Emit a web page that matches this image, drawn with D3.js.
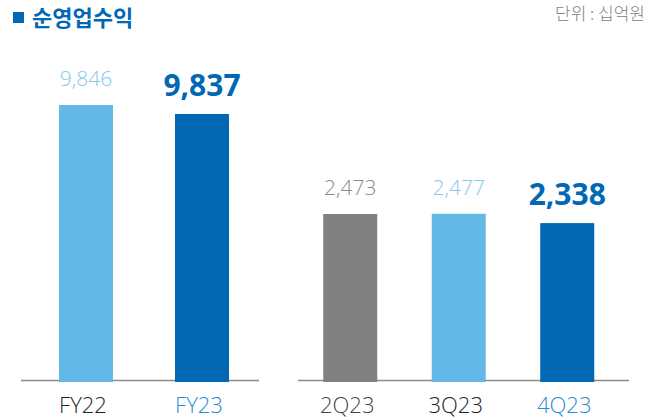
<!DOCTYPE html>
<html>
<head>
<meta charset="utf-8">
<script src="https://cdn.jsdelivr.net/npm/d3@7"></script>
<style>
  body { margin: 0; background: #fff; }
  text { font-family: "Noto Sans CJK KR", "Noto Sans", sans-serif; }
  text.num { font-family: "Open Sans", "Noto Sans", sans-serif; }
</style>
</head>
<body>
<div id="chart"></div>
<script>
// data
var yearCats = ["FY22", "FY23"];
var yearVals = [9846, 9837];
var quarterCats = ["2Q23", "3Q23", "4Q23"];
var quarterVals = [2473, 2477, 2338];

var W = 652, H = 419;
var base = 380.5;
var barW = 54;

var svg = d3.select("#chart")
	.append("svg")
	.attr("width", W)
	.attr("height", H);

// title + unit
svg.append("rect")
	.attr("x", 13).attr("y", 12)
	.attr("width", 11).attr("height", 11)
	.attr("fill", "#0068b4");
svg.append("text")
	.attr("x", 32).attr("y", 26)
	.attr("fill", "#0068b4")
	.style("font-size", "22px")
	.style("font-weight", 700)
	.text("순영업수익");
svg.append("text")
	.attr("x", 645).attr("y", 20)
	.attr("text-anchor", "end")
	.attr("fill", "#808080")
	.style("font-size", "17px")
	.style("font-weight", 300)
	.text("단위 : 십억원");

// styles per bar: [fill, label colour, bold, axis label colour]
var yearStyle = [
	["#63b8e8", "#86c7ee", false, "#222"],
	["#0068b4", "#0068b4", true, "#2b8ad0"]
];
var quarterStyle = [
	["#808080", "#8a8a8a", false, "#444"],
	["#63b8e8", "#86c7ee", false, "#222"],
	["#0068b4", "#0068b4", true, "#2b8ad0"]
];

// scales (annual panel drawn on a truncated axis like the original)
var xYear = d3.scalePoint().domain(yearCats).range([28, 260]).padding(0.5);
var yYear = d3.scaleLinear().domain([9570, 9846]).range([base, 105]);
var xQ = d3.scalePoint().domain(quarterCats).range([296, 621.5]).padding(0.5);
var yQ = d3.scaleLinear().domain([0, 2500]).range([base, base - 168.3]);

function panel(cats, vals, styles, x, y, x0, x1) {
	var g = svg.append("g");

	g.append("line")
		.attr("x1", x0).attr("x2", x1)
		.attr("y1", base).attr("y2", base)
		.attr("stroke", "#8c8c8c")
		.attr("stroke-width", 1.5);

	var d = cats.map(function(c, i) { return {cat: c, val: vals[i], s: styles[i]}; });

	g.selectAll(".bar")
		.data(d)
		.enter()
		.append("rect")
		.attr("class", "bar")
		.attr("x", function(e) { return x(e.cat) - barW / 2; })
		.attr("y", function(e) { return y(e.val); })
		.attr("width", barW)
		.attr("height", function(e) { return base + 1.5 - y(e.val); })
		.attr("fill", function(e) { return e.s[0]; });

	g.selectAll(".val")
		.data(d)
		.enter()
		.append("text")
		.attr("class", "val num")
		.attr("x", function(e) { return x(e.cat); })
		.attr("y", function(e) { return y(e.val) - (e.s[2] ? 18 : 19); })
		.attr("text-anchor", "middle")
		.attr("fill", function(e) { return e.s[1]; })
		.style("font-size", function(e) { return e.s[2] ? "30px" : "21px"; })
		.style("font-weight", function(e) { return e.s[2] ? 700 : 300; })
		.text(function(e) { return d3.format(",")(e.val); });

	g.selectAll(".cat")
		.data(d)
		.enter()
		.append("text")
		.attr("class", "cat num")
		.attr("x", function(e) { return x(e.cat) - 3; })
		.attr("y", 413)
		.attr("text-anchor", "middle")
		.attr("fill", function(e) { return e.s[3]; })
		.style("font-size", "22px")
		.style("font-weight", 300)
		.text(function(e) { return e.cat; });
}

panel(yearCats, yearVals, yearStyle, xYear, yYear, 21, 259);
panel(quarterCats, quarterVals, quarterStyle, xQ, yQ, 298, 629);
</script>
</body>
</html>
